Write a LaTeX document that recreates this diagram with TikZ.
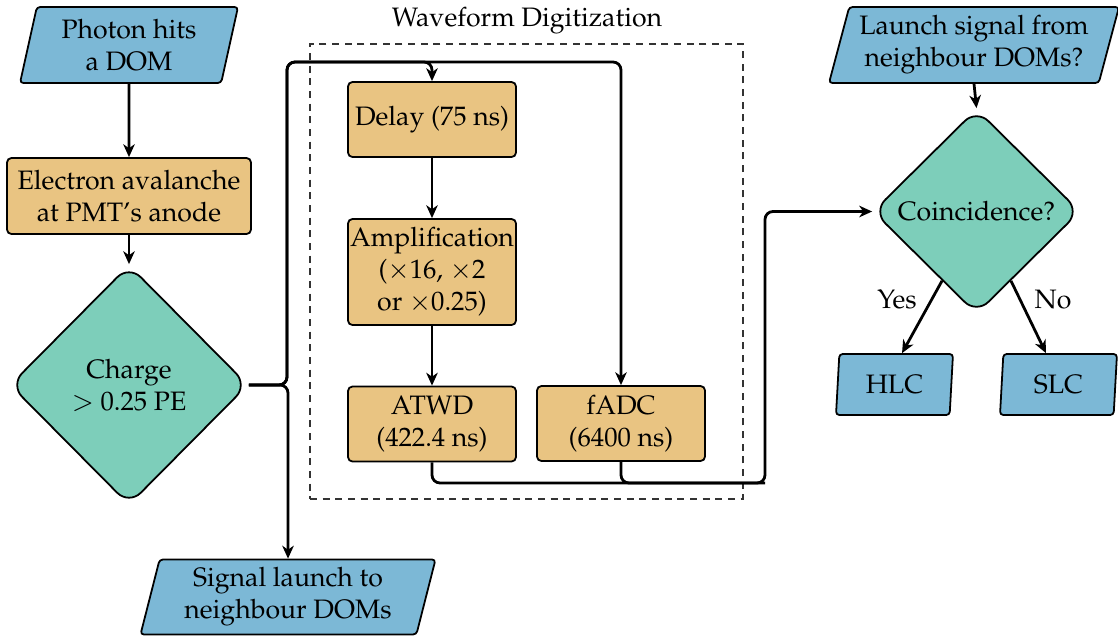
\documentclass[tikz,border=0pt]{standalone}
\usepackage[T1]{fontenc}
\usepackage{mathpazo}
\usetikzlibrary{shapes.geometric,arrows.meta,calc}
\definecolor{cblue}{RGB}{124,184,214}
\definecolor{corange}{RGB}{233,196,130}
\definecolor{cteal}{RGB}{125,206,186}
\def\u{0.45pt}
\tikzset{
  x=0.45pt, y=-0.45pt,
  every node/.style={font=\fontsize{12}{14.4}\selectfont, align=center, inner sep=0pt},
  iobox/.style={trapezium, trapezium stretches body, draw=black, line width=0.8pt, fill=cblue, rounded corners=1.5pt},
  procbox/.style={rectangle, draw=black, line width=0.8pt, fill=corange, rounded corners=2pt},
  decbox/.style={diamond, draw=black, line width=0.8pt, fill=cteal, rounded corners=7.5pt},
  conn/.style={line width=1.25pt, rounded corners=3.6pt},
  arr/.style={conn, -{Stealth[length=5.8pt,width=5.2pt,inset=1.8pt]}},
}
\begin{document}
\begin{tikzpicture}
\useasboundingbox (0,0) rectangle (1118,637);
% left column
\node[iobox, trapezium left angle=72, trapezium right angle=108, minimum width=218*\u, minimum height=76*\u] (photon) at (129,45) {Photon hits\\a DOM};
\node[procbox, minimum width=244*\u, minimum height=76*\u] (electron) at (129,196) {Electron avalanche\\at PMT's anode};
\node[decbox, minimum width=238*\u, minimum height=240*\u] (charge) at (129,385) {Charge\\$>$ 0.25 PE};
\node[iobox, trapezium left angle=72, trapezium right angle=108, minimum width=295*\u, minimum height=75*\u] (signal) at (288,597) {Signal launch to\\neighbour DOMs};
% waveform digitization
\node[draw=black!80, dash pattern=on 3.2pt off 2.5pt, line width=0.5pt, minimum width=433*\u, minimum height=455*\u] (wbox) at (526.5,271.5) {};
\node (wtitle) at (527,21) {Waveform Digitization};
\node[procbox, minimum width=168*\u, minimum height=75*\u] (delay) at (432,119.5) {Delay (75 ns)};
\node[procbox, minimum width=168*\u, minimum height=106*\u] (amp) at (432,272) {Amplification\\($\times$16, $\times$2\\or $\times$0.25)};
\node[procbox, minimum width=168*\u, minimum height=75*\u] (atwd) at (432,424) {ATWD\\(422.4 ns)};
\node[procbox, minimum width=168*\u, minimum height=75*\u] (fadc) at (621,423.5) {fADC\\(6400 ns)};
% right column
\node[iobox, trapezium left angle=71, trapezium right angle=109, minimum width=290*\u, minimum height=76*\u] (launch) at (974,45) {Launch signal from\\neighbour DOMs?};
\node[decbox, minimum width=207*\u, minimum height=205*\u] (coinc) at (976.5,211.5) {Coincidence?};
\node[iobox, trapezium left angle=80, trapezium right angle=100, minimum width=117*\u, minimum height=61*\u] (hlc) at (894.5,384.5) {HLC};
\node[iobox, trapezium left angle=80, trapezium right angle=100, minimum width=117*\u, minimum height=61*\u] (slc) at (1058.5,384.5) {SLC};
\node (yes) at (897,300) {Yes};
\node (no) at (1053,300) {No};
% helper coordinates
\coordinate (cT) at (287,62);
\coordinate (cB) at (765,483);
% connectors
\draw[arr] (photon.south) -- (electron.north);
\draw[arr] (electron.south) -- (charge.north);
\draw[arr] (charge.east) -| (cT) -| (delay.north);
\draw[arr] (charge.east) -| (cT) -| (fadc.north);
\draw[arr] (charge.east) -| (signal.north);
\draw[arr] (delay.south) -- (amp.north);
\draw[arr] (amp.south) -- (atwd.north);
\draw[arr] (atwd.south) |- (cB) |- (coinc.west);
\draw[conn] (fadc.south) |- (cB);
\draw[arr] (launch.south) -- (coinc.north);
\draw[arr] ($(coinc.south)!0.33!(coinc.west)$) -- ($(hlc.north west)!0.62!(hlc.north east)$);
\draw[arr] ($(coinc.south)!0.33!(coinc.east)$) -- ($(slc.north west)!0.3!(slc.north east)$);
\end{tikzpicture}
\end{document}
